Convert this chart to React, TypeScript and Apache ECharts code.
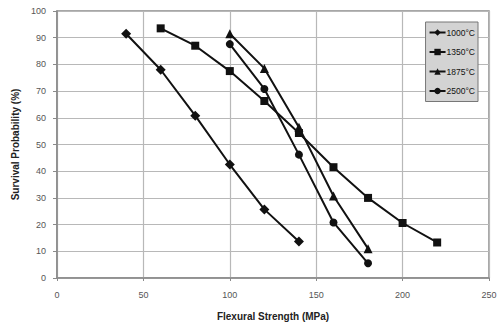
import React, { useEffect, useRef } from "react";
import * as echarts from "echarts";

const seriesNames = ["1000°C", "1350°C", "1875°C", "2500°C"];
const symbols = ["diamond", "rect", "triangle", "circle"];
const symbolSizes = [10, 8, 9, 8];
const s1000: [number, number][] = [[40, 91.5], [60, 78], [80, 60.8], [100, 42.5], [120, 25.7], [140, 13.7]];
const s1350: [number, number][] = [[60, 93.5], [80, 87], [100, 77.5], [120, 66.3], [140, 54.3], [160, 41.5], [180, 30], [200, 20.6], [220, 13.3]];
const s1875: [number, number][] = [[100, 91.5], [120, 78.5], [140, 56.5], [160, 30.7], [180, 11]];
const s2500: [number, number][] = [[100, 87.6], [120, 70.8], [140, 46.2], [160, 20.8], [180, 5.5]];
const allData = [s1000, s1350, s1875, s2500];
const xTicks = [0, 50, 100, 150, 200, 250];
const yTicks = [0, 10, 20, 30, 40, 50, 60, 70, 80, 90, 100];

export default function App() {
  const ref = useRef<HTMLDivElement>(null);
  useEffect(() => {
    if (!ref.current) return;
    const chart = echarts.init(ref.current, null, { renderer: "svg" });
    const font = "Liberation Sans";
    chart.setOption({
      animation: false,
      backgroundColor: "#fff",
      grid: {
        left: 57, right: 9, top: 11, bottom: 50,
        show: true, borderColor: "#8a8a8a", borderWidth: 1.5,
        containLabel: false, outerBoundsMode: "none",
      },
      legend: {
        orient: "vertical",
        right: 20, top: 22,
        backgroundColor: "#d3d3d3",
        borderColor: "#777",
        borderWidth: 1,
        padding: [6, 3, 6, 3],
        itemGap: 10.5,
        itemWidth: 16,
        itemHeight: 8,
        textStyle: { fontFamily: font, fontSize: 8.5, color: "#111", padding: [0, 0, 0, -4] },
        data: seriesNames,
      },
      xAxis: {
        type: "value", min: 0, max: 250, interval: 50,
        name: "Flexural Strength (MPa)", nameLocation: "middle", nameGap: 33,
        nameTextStyle: { fontFamily: font, fontSize: 10, fontWeight: "bold", color: "#222" },
        axisLine: { show: true, lineStyle: { color: "#8a8a8a", width: 1.5 } },
        axisTick: { show: true, length: 3, lineStyle: { color: "#8a8a8a" } },
        axisLabel: { fontFamily: font, fontSize: 9, color: "#555", margin: 12,
          formatter: (v: number) => (xTicks.includes(v) ? String(v) : "") },
        splitLine: { show: true, lineStyle: { color: "#b8b8b8", width: 1.2 } },
      },
      yAxis: {
        type: "value", min: 0, max: 100, interval: 10,
        name: "Survival Probability (%)", nameLocation: "middle", nameGap: 36,
        nameTextStyle: { fontFamily: font, fontSize: 10, fontWeight: "bold", color: "#222" },
        axisLine: { show: true, lineStyle: { color: "#8a8a8a", width: 1.5 } },
        axisTick: { show: true, length: 4, lineStyle: { color: "#8a8a8a" } },
        axisLabel: { fontFamily: font, fontSize: 9, color: "#555", margin: 11,
          formatter: (v: number) => (yTicks.includes(v) ? String(v) : "") },
        splitLine: { show: true, lineStyle: { color: "#b8b8b8", width: 1.2 } },
      },
      series: allData.map((d, i) => ({
        name: seriesNames[i],
        type: "line",
        data: d,
        symbol: symbols[i],
        symbolSize: symbolSizes[i],
        lineStyle: { color: "#111", width: 2 },
        itemStyle: { color: "#111" },
        showAllSymbol: true,
      })),
    });
    return () => chart.dispose();
  }, []);
  return <div ref={ref} style={{ position: "fixed", left: 0, top: 0, width: 498, height: 328 }} />;
}
